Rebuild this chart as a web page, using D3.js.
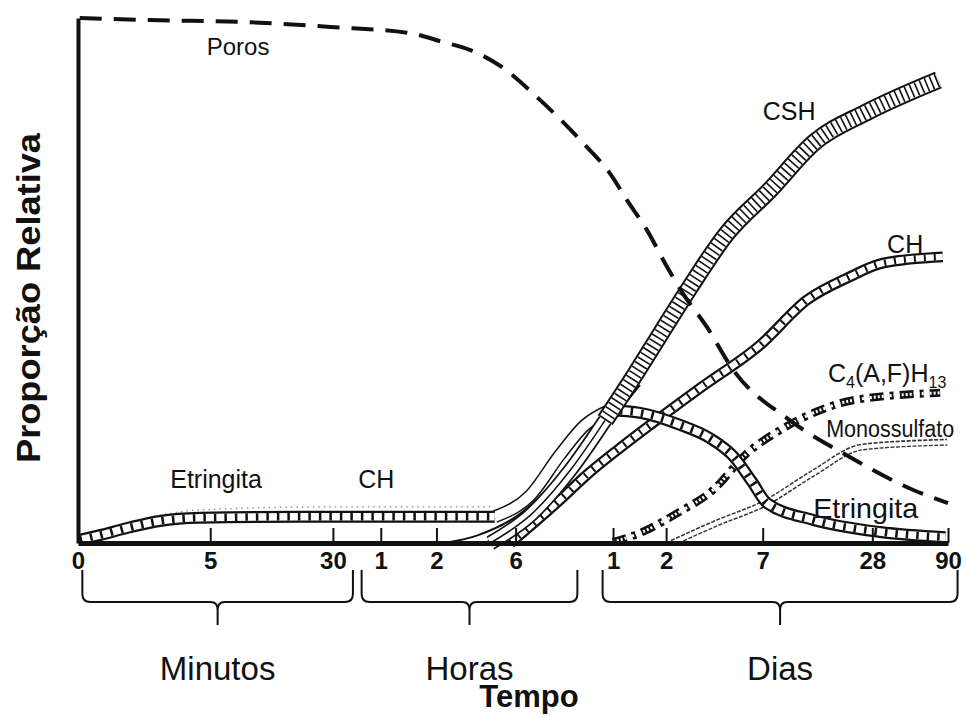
<!DOCTYPE html>
<html>
<head>
<meta charset="utf-8">
<script src="https://cdn.jsdelivr.net/npm/d3@7"></script>
<style>
  body { margin: 0; background: #fff; }
  text { font-family: "Liberation Sans", Arial, sans-serif; fill: #111; }
</style>
</head>
<body>
<div id="chart"></div>
<script>
// position along the (schematic) time axis, 0..100, and relative proportion 0..100
var tickPos    = [0, 15.2, 29.3, 34.8, 41.2, 50.3, 61.5, 67.6, 78.7, 91.3, 100];
var tickLabels = ["0", "5", "30", "1", "2", "6", "1", "2", "7", "28", "90"];

var periods = ["Minutos", "Horas", "Dias"];
var periodFrom = [0.5, 32.6, 60.3];
var periodTo   = [31.6, 57.4, 101.1];

var poros = [[0.2,100],[8.3,99.6],[19.8,99.2],[29,98.3],[38.2,97.1],[42,95.4],[45.1,93.9],
  [48.5,90.9],[53.1,84.4],[58.5,75.4],[61.1,70.5],[63.1,65.3],[65.4,59.6],[67.7,52.6],
  [69.5,47.6],[72.3,41.1],[75.3,33],[81.8,23.4],[88.7,16.4],[96,10.1],[100,7.6]];

var csh = [[47.4,0],[52,5.3],[56.6,13.9],[60.6,23.4],[64,32],[67.1,40.2],[70.3,48.6],
  [74.6,59],[79.5,67.2],[84.7,76.4],[90.7,82.1],[98.9,88.2]];

var bundleA = [[42.2,0],[46,1.5],[50.6,5.3],[55.2,12.4],[59.2,20.2],[62.6,27.2],[65.5,34.5]];
var bundleB = [[46.8,0],[52,5.3],[56.6,13.9],[60.6,21.9],[64.6,30.1]];

var etringita = [[0.2,0.6],[2.5,1.5],[6,3],[9.4,4.2],[14,4.8],[25.5,5],[37,5],[47.9,5],
  [52,9.1],[55.4,16.8],[58.3,22.5],[61.1,25.3],[64.6,24.8],[69.2,22.5],[72.6,20],
  [75.5,16.2],[77.5,11.6],[79.2,7.6],[84.5,4.4],[92.2,2.1],[99.7,1.1]];

var earlyDots = [[2,2.1],[8,4.8],[14,6.3],[30,6.9],[47.9,6.9]];

var ch = [[49.7,0],[55.4,8.2],[58.5,13],[62.3,18.1],[66.1,22.9],[71.5,29.5],[78.4,37.7],
  [83.8,46.3],[88.7,50.7],[92.5,53.3],[99.4,54.5]];

var c4af = [[61.5,0.2],[64.6,1.9],[68.9,5.7],[73,10.1],[76.9,17.1],[80.7,21.5],[85.3,25.3],
  [89.1,27.2],[99.1,28.6]];

var monossulfato = [[68.3,0],[73.4,3.8],[79,7.6],[84.5,13.3],[90.2,18.3],[99.9,19.2]];

var margin = {top: 18, right: 18, bottom: 174, left: 78},
    width = 966 - margin.left - margin.right,
    height = 717 - margin.top - margin.bottom;

var svg = d3.select("#chart")
  .append("svg")
  .attr("width", width + margin.left + margin.right)
  .attr("height", height + margin.top + margin.bottom)
  .append("g")
  .attr("transform", "translate(" + margin.left + "," + margin.top + ")");

var x = d3.scaleLinear().domain([0, 100]).range([0, width]);
var y = d3.scaleLinear().domain([0, 100]).range([height, 0]);

var line = d3.line()
  .x(function(d) { return x(d[0]); })
  .y(function(d) { return y(d[1]); })
  .curve(d3.curveMonotoneX);

// stroke helper: several strokes on top of each other make the band patterns
function stroke(data, color, w, dash) {
  var p = svg.append("path")
    .attr("d", line(data))
    .attr("fill", "none")
    .attr("stroke", color)
    .attr("stroke-width", w)
    .attr("stroke-linecap", "butt");
  if (dash) p.attr("stroke-dasharray", dash);
  return p;
}
function part(data, t0, t1) {
  return data.filter(function(d) { return d[0] >= t0 && d[0] <= t1; });
}

// faint dotted line above the early band
stroke(earlyDots, "#999", 1.5, "1.5,4");

// thin bundle lines under CSH
stroke(bundleA, "#111", 2);
stroke(bundleB, "#111", 2);

// Monossulfato (double thin line)
stroke(monossulfato, "#333", 7, "4,1.5");
stroke(monossulfato, "#fff", 4);

// C4(A,F)H13 dash-dot band
stroke(c4af, "#111", 8, "14,6,4,6");
stroke(c4af, "#fff", 3, "2,2");

// CH band (chain)
stroke(ch, "#111", 11);
stroke(ch, "#fff", 6.5);
stroke(ch, "#111", 6.5, "2,8");

// Etringita: chain band, the rise drawn as a double thin line
var etEarly = part(etringita, 0, 47.9),
    etRise = part(etringita, 47.9, 61.1),
    etLate = part(etringita, 61.1, 100);
stroke(etRise, "#111", 13);
stroke(etRise, "#fff", 10);
[etEarly, etLate].forEach(function(seg) {
  stroke(seg, "#111", 12);
  stroke(seg, "#fff", 7.5);
  stroke(seg, "#111", 7.5, "2.5,8");
});

// CSH: lower part as parallel thin lines, upper part hatched
var cshLow = part(csh, 0, 60.6),
    cshHigh = part(csh, 60.6, 100);
stroke(cshLow, "#111", 15);
stroke(cshLow, "#fff", 11.5);
stroke(cshLow, "#111", 1.5);
stroke(cshHigh, "#111", 18);
stroke(cshHigh, "#fff", 14);
stroke(cshHigh, "#111", 14, "1.6,3.8");

// Poros dashed line
stroke(poros, "#111", 4, "22,12");

// axes
var xAxis = svg.append("g")
  .attr("transform", "translate(0," + height + ")")
  .call(d3.axisBottom(x)
    .tickValues(tickPos)
    .tickFormat(function(d, i) { return tickLabels[i]; })
    .tickSizeInner(-15)
    .tickSizeOuter(0)
    .tickPadding(9));
xAxis.select(".domain").attr("stroke", "#111").attr("stroke-width", 5);
xAxis.selectAll(".tick line").attr("stroke", "#111").attr("stroke-width", 2);
xAxis.selectAll(".tick text")
  .attr("font-size", "24px")
  .attr("font-weight", "bold")
  .attr("fill", "#111");

var yAxis = svg.append("g")
  .call(d3.axisLeft(y).ticks(0).tickSizeOuter(0));
yAxis.select(".domain").attr("stroke", "#111").attr("stroke-width", 4);

// braces under the axis
periods.forEach(function(p, i) {
  var x0 = x(periodFrom[i]), x1 = x(periodTo[i]), m = (x0 + x1) / 2;
  var top = height + 27, base = height + 59, tip = height + 82;
  var d = "M" + x0 + "," + top + " L" + x0 + "," + (base - 8) +
    " Q" + x0 + "," + base + " " + (x0 + 8) + "," + base +
    " L" + (m - 7) + "," + base + " Q" + m + "," + base + " " + m + "," + (base + 8) +
    " L" + m + "," + tip +
    " M" + m + "," + (base + 8) + " Q" + m + "," + base + " " + (m + 7) + "," + base +
    " L" + (x1 - 8) + "," + base + " Q" + x1 + "," + base + " " + x1 + "," + (base - 8) +
    " L" + x1 + "," + top;
  svg.append("path").attr("d", d).attr("fill", "none")
    .attr("stroke", "#111").attr("stroke-width", 2);
  svg.append("text")
    .attr("x", m)
    .attr("y", height + 137)
    .attr("text-anchor", "middle")
    .attr("font-size", "33px")
    .text(p);
});

// axis titles
svg.append("text")
  .attr("text-anchor", "middle")
  .attr("font-size", "31px")
  .attr("font-weight", "bold")
  .attr("x", width / 2 + 16)
  .attr("y", height + 164)
  .text("Tempo");

svg.append("text")
  .attr("text-anchor", "middle")
  .attr("font-size", "33px")
  .attr("font-weight", "bold")
  .attr("transform", "rotate(-90)")
  .attr("x", -280)
  .attr("y", -margin.left + 40)
  .attr("textLength", 330)
  .attr("lengthAdjust", "spacingAndGlyphs")
  .text("Proporção Relativa");

// curve labels
function label(t, v, txt, size, len) {
  var el = svg.append("text")
    .attr("x", x(t)).attr("y", y(v))
    .attr("font-size", size + "px")
    .text(txt);
  if (len) el.attr("textLength", len).attr("lengthAdjust", "spacingAndGlyphs");
  return el;
}
label(14.8, 93, "Poros", 24);
label(78.7, 80.6, "CSH", 25);
label(93, 55.2, "CH", 25);
label(10.6, 10.5, "Etringita", 25);
label(32.2, 10.5, "CH", 25);
label(86.0, 20.2, "Monossulfato", 23, 128);
label(84.5, 4.8, "Etringita", 28, 105);

var c4 = svg.append("text")
  .attr("x", x(86.2)).attr("y", y(30.7))
  .attr("font-size", "25px");
c4.append("tspan").text("C");
c4.append("tspan").attr("font-size", "16px").attr("dy", 6).text("4");
c4.append("tspan").attr("dy", -6).text("(A,F)H");
c4.append("tspan").attr("font-size", "16px").attr("dy", 6).text("13");
</script>
</body>
</html>
